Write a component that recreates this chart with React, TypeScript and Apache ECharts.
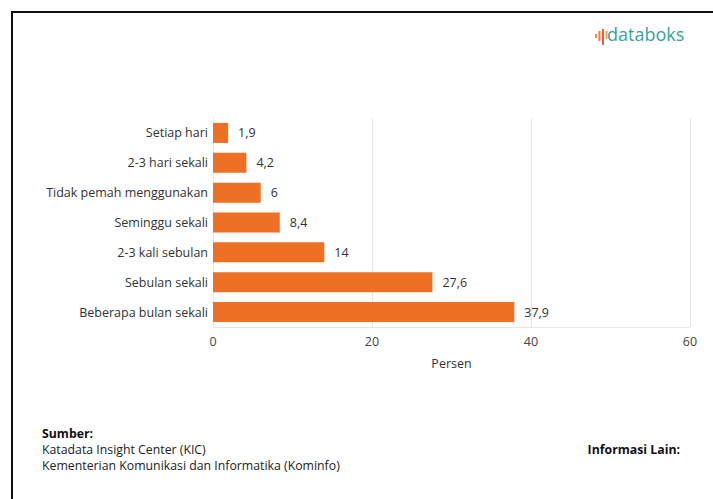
import React, { useEffect, useRef } from "react";
import * as echarts from "echarts";

const categories = [
  "Setiap hari",
  "2-3 hari sekali",
  "Tidak pemah menggunakan",
  "Seminggu sekali",
  "2-3 kali sebulan",
  "Sebulan sekali",
  "Beberapa bulan sekali",
];
const values = [1.9, 4.2, 6, 8.4, 14, 27.6, 37.9];
const axisName = "Persen";
const sourceLines = ["Katadata Insight Center (KIC)", "Kementerian Komunikasi dan Informatika (Kominfo)"];

const FONT = "'Open Sans', 'Noto Sans', sans-serif";
const FS = 12.5;
const FF = 12.3;

export default function App() {
  const ref = useRef<HTMLDivElement>(null);
  useEffect(() => {
    if (!ref.current) return;
    const chart = echarts.init(ref.current, null, { renderer: "svg" });
    const fmt = (v: number) => String(v).replace(".", ",");
    chart.setOption({
      animation: false,
      backgroundColor: "transparent",
      textStyle: { fontFamily: FONT },
      grid: { left: 213, right: 23, top: 118, bottom: 172 },
      xAxis: {
        type: "value",
        min: 0,
        max: 60,
        interval: 20,
        name: axisName,
        nameLocation: "middle",
        nameGap: 30,
        nameTextStyle: { color: "#333", fontSize: FS, fontFamily: FONT },
        axisLine: { show: false },
        axisTick: { show: false },
        axisLabel: { color: "#444", fontSize: FS, margin: 8, fontFamily: FONT },
        splitLine: { show: true, lineStyle: { color: "#e6e6e6", width: 1 } },
      },
      yAxis: {
        type: "category",
        data: categories,
        inverse: true,
        axisLine: { show: true, lineStyle: { color: "#e6e6e6" } },
        axisTick: { show: false },
        axisLabel: { color: "#333", fontSize: FS, margin: 5, fontFamily: FONT },
        splitLine: { show: false },
      },
      series: [
        {
          type: "bar",
          data: values,
          barWidth: 20,
          itemStyle: { color: "#EE7024" },
          label: {
            show: true,
            position: "right",
            distance: 10,
            color: "#333",
            fontSize: FS,
            fontFamily: FONT,
            formatter: (p: any) => fmt(p.value),
          },
        },
      ],
      graphic: [
        {
          type: "line",
          shape: { x1: 213, y1: 327.5, x2: 690, y2: 327.5 },
          style: { stroke: "#e6e6e6", lineWidth: 1 },
        },
        // logo icon
        { type: "rect", shape: { x: 595, y: 34, width: 2, height: 4 }, style: { fill: "#F58A4A" } },
        { type: "rect", shape: { x: 598.5, y: 31, width: 2, height: 10 }, style: { fill: "#F47A3A" } },
        { type: "rect", shape: { x: 602, y: 29, width: 2, height: 16 }, style: { fill: "#EE5A3A" } },
        { type: "rect", shape: { x: 605.5, y: 31, width: 2, height: 8 }, style: { fill: "#F2A055" } },
        {
          type: "text",
          left: 607,
          top: 25,
          style: { text: "databoks", fill: "#3A9FA5", font: `500 18px ${FONT}` },
        },
        {
          type: "text",
          left: 42,
          top: 427,
          style: { text: "Sumber:", fill: "#111", font: `bold ${FF}px ${FONT}` },
        },
        {
          type: "text",
          left: 42,
          top: 443,
          style: { text: sourceLines[0], fill: "#222", font: `${FF}px ${FONT}` },
        },
        {
          type: "text",
          left: 42,
          top: 459,
          style: { text: sourceLines[1], fill: "#222", font: `${FF}px ${FONT}` },
        },
        {
          type: "text",
          right: 33,
          top: 443,
          style: { text: "Informasi Lain:", fill: "#111", font: `bold ${FF}px ${FONT}` },
        },
      ],
    });
    return () => chart.dispose();
  }, []);
  return (
    <div style={{ position: "fixed", left: 0, top: 0, width: 713, height: 499, background: "#fff", overflow: "hidden" }}>
      <div
        style={{
          position: "absolute",
          left: 11,
          top: 11,
          width: 720,
          height: 520,
          border: "2px solid #111",
          boxSizing: "border-box",
        }}
      />
      <div ref={ref} style={{ position: "absolute", left: 0, top: 0, width: 713, height: 499 }} />
    </div>
  );
}
